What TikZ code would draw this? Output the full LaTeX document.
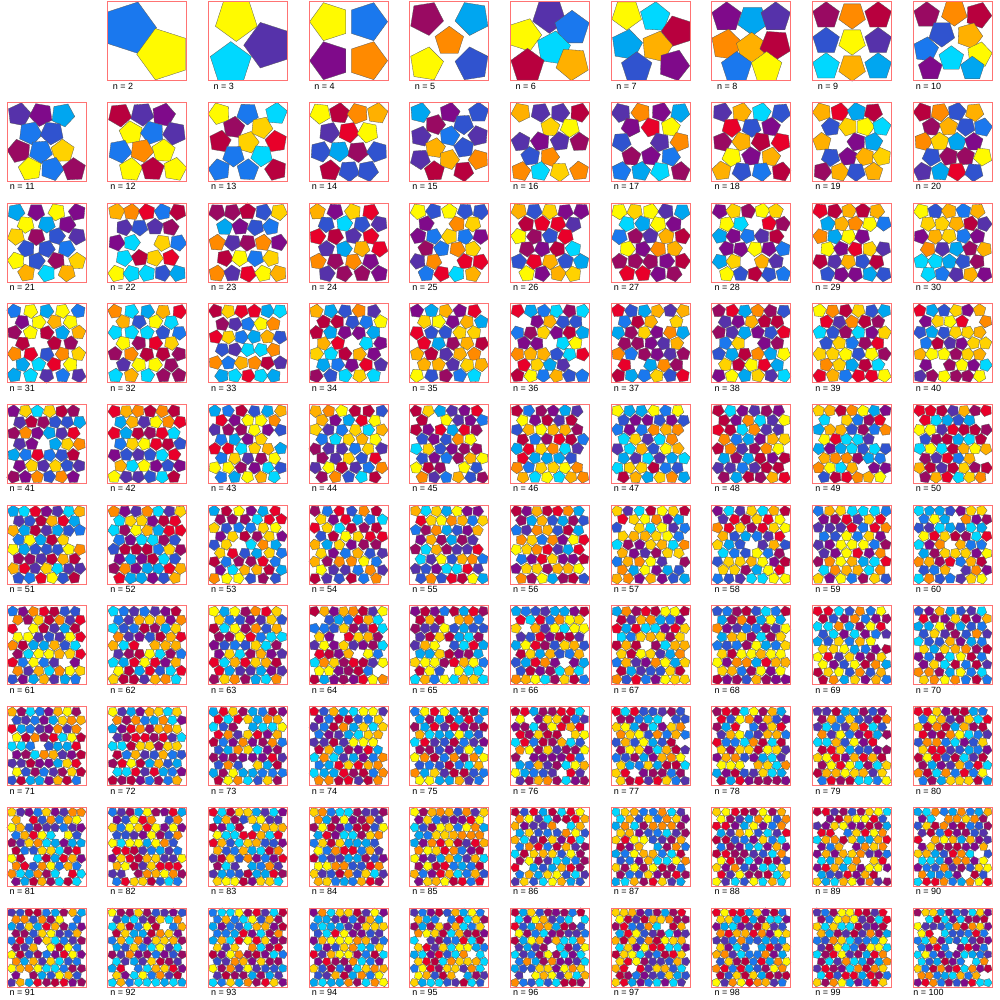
\documentclass[tikz,border=0pt]{standalone}
\usepackage{fontspec}
\setmainfont{Liberation Sans}
\definecolor{pc1}{HTML}{1A78EE}
\definecolor{pc2}{HTML}{FFFA00}
\definecolor{pc3}{HTML}{00D8FF}
\definecolor{pc4}{HTML}{5632AA}
\definecolor{pc5}{HTML}{7F0A8A}
\definecolor{pc6}{HTML}{FF8A00}
\definecolor{pc7}{HTML}{FFB000}
\definecolor{pc8}{HTML}{B8003E}
\definecolor{pc9}{HTML}{E8002A}
\definecolor{pc10}{HTML}{3053CF}
\definecolor{pc11}{HTML}{00A6F0}
\definecolor{pc12}{HTML}{FFD200}
\definecolor{pc13}{HTML}{990A62}
\tikzset{
  pentline/.style={draw=black!65,line width=0.3pt},
  sqbox/.style={draw=red!55,line width=1pt},
  lab/.style={anchor=base,inner sep=0pt,font=\fontsize{9}{10}\selectfont}
}
\newcommand\pent[5]{\filldraw[pentline,fill=#5,shift={(#1,#2)},rotate=-#4,scale=#3]
  (0,-1) -- (0.9511,-0.309) -- (0.5878,0.809) -- (-0.5878,0.809) -- (-0.9511,-0.309) -- cycle;}
\newcommand\cellorigin[1]{%
  \pgfmathtruncatemacro\rowi{int((#1-0.5)/10)}%
  \pgfmathtruncatemacro\coli{#1-1-10*\rowi}%
  \pgfmathsetmacro\xo{7+100.7*\coli}%
  \pgfmathsetmacro\yo{1.7+100.7*\rowi}}
% #1 = n, #2 = rows, #3 = variant (1: rows alternate a, a-1; 0: all rows a, shifted)
\newcommand\hexcalc[3]{%
  \pgfmathtruncatemacro\hxa{ceil((#1+#3*floor(#2/2))/#2-0.0001)}%
  \pgfmathsetmacro\hxq{sqrt(1/(4*(\hxa-1+0.5*(1-#3))^2)+1/((#2-1)^2))}%
  \pgfmathsetmacro\hxR{min(79/(2*\hxa+1-#3),79*\hxq/(2+2*\hxq))}}
\newcommand\trycand[3]{%
  \hexcalc{#1}{#2}{#3}%
  \pgfmathtruncatemacro\better{\hxR>\bestR+0.01}%
  \ifnum\better=1 \let\bestR\hxR\edef\bestm{#2}\edef\bestv{#3}\fi}
\begin{document}
\begin{tikzpicture}[x=1pt,y=-1pt]
\pgfmathsetseed{7}
\useasboundingbox (0,0) rectangle (1000,1000);
% n = 2
\begin{scope}[shift={(107.7,1.7)}]
\pent{21.9}{26}{27}{90}{pc1}
\pent{56}{52.5}{27}{270}{pc2}
\end{scope}
% n = 3
\begin{scope}[shift={(208.4,1.7)}]
\pent{27.9}{17.8}{22}{180}{pc2}
\pent{22.4}{61.5}{21.6}{0}{pc3}
\pent{59.3}{43.5}{24}{270}{pc4}
\end{scope}
% n = 4
\begin{scope}[shift={(309.1,1.7)}]
\pent{20.5}{20}{20}{54}{pc2}
\pent{58.5}{20}{20}{18}{pc1}
\pent{20.5}{59}{20}{54}{pc5}
\pent{58.5}{59}{20}{18}{pc6}
\end{scope}
% n = 5
\begin{scope}[shift={(409.8,1.7)}]
\pent{16.5}{16.5}{17.5}{171}{pc13}
\pent{62.5}{16.5}{17.5}{261}{pc11}
\pent{39.5}{39.5}{15}{0}{pc6}
\pent{16.5}{62.5}{17.5}{81}{pc2}
\pent{62.5}{62.5}{17.5}{351}{pc10}
\end{scope}
% n = 6
\begin{scope}[shift={(510.5,1.7)}]
\pent{38.8}{14.2}{17.5}{180}{pc4}
\pent{14.1}{33.3}{17.1}{90}{pc2}
\pent{61.5}{26.6}{18}{288}{pc1}
\pent{42.8}{46.6}{17.5}{80}{pc3}
\pent{62}{62}{17}{40}{pc7}
\pent{17}{64.1}{17.5}{0}{pc8}
\end{scope}
% n = 7
\begin{scope}[shift={(611.2,1.7)}]
\pent{15.5}{12.9}{15.6}{180}{pc2}
\pent{43.8}{15.5}{15.5}{75}{pc3}
\pent{65.9}{29.5}{16}{270}{pc8}
\pent{15.5}{43.3}{16}{10}{pc11}
\pent{45.5}{45}{16}{85}{pc7}
\pent{25.5}{66}{16}{0}{pc10}
\pent{62.5}{63.5}{16}{20}{pc5}
\end{scope}
% n = 8
\begin{scope}[shift={(711.9,1.7)}]
\pent{14.7}{15.6}{15.5}{0}{pc5}
\pent{40.7}{18.3}{15.5}{180}{pc11}
\pent{63.8}{15.6}{15.5}{0}{pc4}
\pent{14.5}{43.3}{16}{80}{pc6}
\pent{39.7}{46.6}{16}{0}{pc7}
\pent{63.5}{43.3}{16}{40}{pc8}
\pent{24.7}{65.8}{16}{0}{pc1}
\pent{54.7}{65.8}{16}{0}{pc2}
\end{scope}
% n = 9
\begin{scope}[shift={(812.6,1.7)}]
\pent{13.5}{14}{14}{0}{pc13}
\pent{39.5}{13.5}{14}{36}{pc6}
\pent{65.5}{14}{14}{0}{pc8}
\pent{13.5}{39.5}{14}{0}{pc10}
\pent{39.5}{39.5}{14}{36}{pc2}
\pent{65.5}{39.5}{14}{0}{pc4}
\pent{13.5}{65}{14}{0}{pc3}
\pent{39.5}{65.5}{14}{36}{pc7}
\pent{65.5}{65}{14}{0}{pc11}
\end{scope}
% n = 10
\begin{scope}[shift={(913.3,1.7)}]
\pent{13.4}{13.5}{13.5}{0}{pc13}
\pent{41}{11}{13.5}{180}{pc6}
\pent{65}{13.5}{13.5}{20}{pc8}
\pent{28.5}{32}{13.5}{36}{pc10}
\pent{56}{34}{13.5}{20}{pc7}
\pent{12.5}{48}{13}{80}{pc1}
\pent{38}{57}{13}{0}{pc3}
\pent{66}{53}{13}{10}{pc2}
\pent{17}{67}{12.5}{0}{pc5}
\pent{59}{67}{12.5}{0}{pc11}
\end{scope}
% n = 11 .. 100
\foreach \n in {11,...,100}{%
  \cellorigin{\n}%
  \pgfmathtruncatemacro\mzero{round(sqrt(\n))}%
  \pgfmathtruncatemacro\mza{\mzero-1}%
  \pgfmathtruncatemacro\mzb{\mzero+1}%
  \pgfmathtruncatemacro\mzc{\mzero+2}%
  \def\bestR{0}\def\bestm{3}\def\bestv{1}%
  \trycand{\n}{\mzero}{1}\trycand{\n}{\mzb}{1}\trycand{\n}{\mzc}{1}%
  \trycand{\n}{\mza}{0}\trycand{\n}{\mzero}{0}\trycand{\n}{\mzb}{0}\trycand{\n}{\mzc}{0}%
  \hexcalc{\n}{\bestm}{\bestv}%
  \pgfmathsetmacro\Rdraw{1.1*\hxR}%
  \pgfmathtruncatemacro\acnt{\hxa}%
  \pgfmathtruncatemacro\Tslots{\bestm*\acnt-\bestv*floor(\bestm/2)}%
  \pgfmathtruncatemacro\Dslots{\Tslots-\n}%
  \pgfmathsetmacro\hx{(79-2*\Rdraw)/(\acnt-1+0.5*(1-\bestv))}%
  \pgfmathsetmacro\vy{(79-2*\Rdraw)/(\bestm-1)}%
  \begin{scope}[shift={(\xo,\yo)}]
  \foreach \j in {1,...,\bestm}{%
    \pgfmathtruncatemacro\oddrow{mod(\j,2)}%
    \pgfmathtruncatemacro\cnt{\acnt-\bestv*(1-\oddrow)}%
    \pgfmathtruncatemacro\sbase{(\j-1)*\acnt-\bestv*floor((\j-1)/2)}%
    \foreach \i in {1,...,\cnt}{%
      \pgfmathtruncatemacro\sidx{\sbase+\i-1}%
      \pgfmathtruncatemacro\dropit{floor((\sidx+1)*\Dslots/\Tslots+0.5)-floor(\sidx*\Dslots/\Tslots+0.5)}%
      \ifnum\dropit=0
        \pgfmathsetmacro\cx{\Rdraw+(\i-1+0.5*(1-\oddrow))*\hx+0.04*\Rdraw*rand}%
        \pgfmathsetmacro\cy{\Rdraw+(\j-1)*\vy+0.04*\Rdraw*rand}%
        \pgfmathsetmacro\ang{72*rnd}%
        \pgfmathtruncatemacro\ci{random(1,13)}%
        \pent{\cx}{\cy}{\Rdraw}{\ang}{pc\ci}
      \fi
    }%
  }%
  \end{scope}
}
% frames and labels
\foreach \n in {2,...,100}{%
  \cellorigin{\n}%
  \draw[sqbox] (\xo,\yo) rectangle ++(79,79);
  \node[lab] (lab\n) at (\xo+15.3,\yo+87.4) {n = \n};
}
\end{tikzpicture}
\end{document}
